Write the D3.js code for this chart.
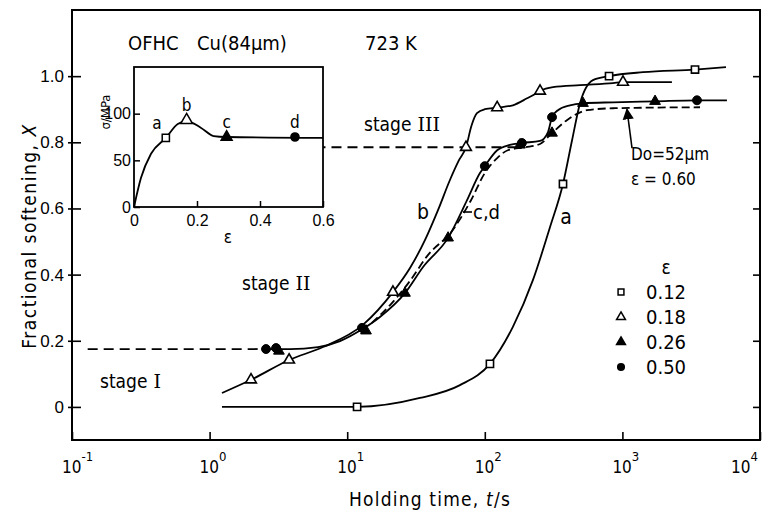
<!DOCTYPE html>
<html>
<head>
<meta charset="utf-8">
<script src="https://cdn.jsdelivr.net/npm/d3@7"></script>
<style>
body { margin: 0; background: #fff; }
svg { font-family: "DejaVu Sans Condensed", "DejaVu Sans", sans-serif; }
.ln { fill: none; stroke: #000; stroke-width: 1.8; }
</style>
</head>
<body>
<svg id="chart" width="762" height="514"></svg>
<script>
// holding time t (s), fractional softening X
var tickT = [0.1, 1, 10, 100, 1000, 10000];
var tickExp = ["-1", "0", "1", "2", "3", "4"];
var tickX = [0, 0.2, 0.4, 0.6, 0.8, 1.0];
var tickXLabels = ["0", "0.2", "0.4", "0.6", "0.8", "1.0"];

// a : eps = 0.12
var curveA = [[1.23, 0], [11.8, 0], [33.8, 0.027], [66, 0.066], [109, 0.13], [160, 0.242], [224, 0.384],
	[298, 0.544], [370, 0.674], [431, 0.807], [492, 0.918], [611, 0.988], [800, 1.0], [1413, 1.012],
	[3370, 1.02], [5660, 1.027]];
var marksA = [[11.8, 0], [109, 0.13], [370, 0.674], [800, 1.0], [3370, 1.02]];

// b : eps = 0.18
var curveB = [[1.23, 0.042], [2.0, 0.082], [3.78, 0.142], [6.67, 0.181], [13.0, 0.248], [21.5, 0.347],
	[28.6, 0.42], [36.8, 0.505], [45.7, 0.595], [55.8, 0.686], [64.9, 0.746], [73, 0.785], [80, 0.85],
	[87.7, 0.888], [100, 0.9], [123, 0.905], [160, 0.912], [203, 0.933], [239, 0.949], [252, 0.955],
	[313, 0.967], [492, 0.973], [855, 0.979], [1010, 0.982], [2290, 0.982]];
var marksB = [[2.0, 0.082], [3.78, 0.142], [21.5, 0.347], [73, 0.785], [123, 0.905], [252, 0.955], [1010, 0.982]];

// c,d : eps = 0.26 and 0.50 share one curve
var curveCD = [[2.40, 0.175], [3.84, 0.175], [6.14, 0.181], [8.87, 0.199], [13.0, 0.236], [17.3, 0.272],
	[26.3, 0.344], [35.6, 0.423], [54.1, 0.511], [74.3, 0.625], [92.2, 0.707], [100, 0.728], [123, 0.776],
	[152, 0.792], [186, 0.798], [252, 0.804], [288, 0.831], [308, 0.876], [340, 0.897], [416, 0.912],
	[517, 0.918], [855, 0.921], [1727, 0.924], [3484, 0.927], [5750, 0.927]];
var marksC = [[3.19, 0.169], [13.7, 0.23], [26.3, 0.344], [54.1, 0.511], [180, 0.792], [308, 0.828], [517, 0.918], [1727, 0.924]];
var marksD = [[2.57, 0.175], [3.04, 0.178], [12.8, 0.239], [100, 0.728], [186, 0.798], [308, 0.876], [3484, 0.927]];

// Do = 52um, eps = 0.60 (dashed, no markers)
var curveE = [[15.1, 0.254], [20.5, 0.308], [28.6, 0.381], [38.6, 0.459], [57.8, 0.532], [79.4, 0.625],
	[100, 0.707], [123, 0.752], [147, 0.776], [196, 0.785], [252, 0.795], [308, 0.828], [395, 0.867],
	[553, 0.897], [855, 0.903], [3665, 0.906]];

var stageI = [[0.13, 0.175], [2.32, 0.175]];
var stageIII = [[4.5, 0.785], [166, 0.785]];
var arrowE = [[1175, 0.782], [1079, 0.9]];

var legendLabels = ["0.12", "0.18", "0.26", "0.50"];

// inset: stress-strain curve
var insetTicksE = [0, 0.2, 0.4, 0.6];
var insetTicksS = [0, 50, 100];
var insetCurve = [[0, 0], [0.022, 31], [0.054, 57], [0.101, 74], [0.139, 89], [0.167, 92], [0.212, 85],
	[0.253, 76], [0.294, 75], [0.6, 74]];
var insetStrain = [0.101, 0.167, 0.294, 0.511];
var insetStress = [74, 93, 75, 75];
var insetLabels = ["a", "b", "c", "d"];

var svg = d3.select("#chart");

var x = d3.scaleLog().domain([0.1, 10000]).range([72, 760]);
var y = d3.scaleLinear().domain([-0.1, 1.2]).range([440, 10]);

var line = d3.line()
	.x(function(d) { return x(d[0]); })
	.y(function(d) { return y(d[1]); })
	.curve(d3.curveMonotoneX);

var sym = {
	square: d3.symbol().type(d3.symbolSquare).size(52),
	tri: d3.symbol().type(d3.symbolTriangle).size(50),
	circle: d3.symbol().type(d3.symbolCircle).size(62)
};

function marks(g, data, px, py, path, filled) {
	g.selectAll(null).data(data).enter().append("path")
		.attr("d", path)
		.attr("transform", function(d) { return "translate(" + px(d) + "," + py(d) + ")"; })
		.attr("fill", filled ? "#000" : "#fff")
		.attr("stroke", "#000")
		.attr("stroke-width", filled ? 1 : 1.6);
}

// frame
svg.append("rect").attr("x", 72).attr("y", 10).attr("width", 688).attr("height", 430)
	.attr("fill", "none").attr("stroke", "#000").attr("stroke-width", 2);

// bottom axis ticks (inward) + labels with exponents
var gx = svg.append("g").attr("transform", "translate(0,440)")
	.call(d3.axisBottom(x).tickValues(tickT).tickSize(-8).tickFormat(""));
gx.select(".domain").remove();
gx.selectAll(".tick line").attr("stroke-width", 1.6);

var xl = svg.append("g").attr("font-size", 17);
tickT.forEach(function(t, i) {
	// last label sits at the right edge; nudge it in so it is not clipped
	var lx = Math.min(x(t) - 10, 731);
	var tx = xl.append("text").attr("x", lx).attr("y", 473);
	tx.append("tspan").text("10");
	tx.append("tspan").attr("dy", -12).attr("font-size", 13).text(tickExp[i]);
});

// left axis
var gy = svg.append("g").attr("transform", "translate(72,0)")
	.call(d3.axisLeft(y).tickValues(tickX).tickSizeInner(-9).tickSizeOuter(0).tickPadding(8)
		.tickFormat(function(d, i) { return tickXLabels[i]; }));
gy.select(".domain").remove();
gy.selectAll(".tick line").attr("x1", -4).attr("stroke-width", 1.6);
gy.selectAll(".tick text").attr("font-size", 17).attr("font-family", null);

// right axis ticks
var gr = svg.append("g").attr("transform", "translate(760,0)")
	.call(d3.axisRight(y).tickValues(tickX).tickSize(-7).tickFormat(""));
gr.select(".domain").remove();
gr.selectAll(".tick line").attr("stroke-width", 1.6);

// axis titles
svg.append("text").attr("x", 430).attr("y", 506).attr("text-anchor", "middle")
	.attr("font-size", 19).attr("letter-spacing", 1.2)
	.html('Holding time, <tspan font-style="italic">t</tspan>/s');
svg.append("text").attr("transform", "translate(36,236) rotate(-90)").attr("text-anchor", "middle")
	.attr("font-size", 19).attr("letter-spacing", 1.5)
	.html('Fractional softening, <tspan font-style="italic">X</tspan>');

// dashed reference lines
svg.append("path").datum(stageI).attr("class", "ln").attr("d", line).attr("stroke-dasharray", "10,6");
svg.append("path").datum(stageIII).attr("class", "ln").attr("d", line).attr("stroke-dasharray", "10,6");
svg.append("path").datum(curveE).attr("class", "ln").attr("d", line).attr("stroke-dasharray", "8,4");

// curves
[curveA, curveB, curveCD].forEach(function(c) {
	svg.append("path").datum(c).attr("class", "ln").attr("d", line);
});

var px = function(d) { return x(d[0]); }, py = function(d) { return y(d[1]); };
var gm = svg.append("g");
marks(gm, marksA, px, py, sym.square, false);
marks(gm, marksB, px, py, sym.tri, false);
marks(gm, marksC, px, py, sym.tri, true);
marks(gm, marksD, px, py, sym.circle, true);

// arrow to dashed curve
svg.append("defs").append("marker").attr("id", "arr").attr("viewBox", "0 0 10 10")
	.attr("refX", 9).attr("refY", 5).attr("markerWidth", 7).attr("markerHeight", 9).attr("orient", "auto")
	.append("path").attr("d", "M0,0L10,5L0,10z").attr("fill", "#000");
svg.append("line").attr("x1", x(arrowE[0][0])).attr("y1", y(arrowE[0][1]))
	.attr("x2", x(arrowE[1][0])).attr("y2", y(arrowE[1][1]))
	.attr("stroke", "#000").attr("stroke-width", 1.6).attr("marker-end", "url(#arr)");

// annotations
var ann = svg.append("g").attr("font-size", 19);
ann.append("text").attr("x", 128).attr("y", 50).attr("font-size", 20).text("OFHC");
ann.append("text").attr("x", 197).attr("y", 50).attr("font-size", 20).text("Cu(84μm)");
ann.append("text").attr("x", 365).attr("y", 50).attr("font-size", 20).text("723 K");
ann.append("text").attr("x", 364).attr("y", 131).html('stage<tspan font-family="DejaVu Serif"> III</tspan>');
ann.append("text").attr("x", 242).attr("y", 290).html('stage<tspan font-family="DejaVu Serif"> II</tspan>');
ann.append("text").attr("x", 100).attr("y", 388).html('stage<tspan font-family="DejaVu Serif"> I</tspan>');
ann.append("text").attr("x", 423).attr("y", 219).attr("text-anchor", "middle").attr("font-size", 21).text("b");
ann.append("text").attr("x", 566).attr("y", 224).attr("text-anchor", "middle").attr("font-size", 21).text("a");
ann.append("text").attr("x", 473).attr("y", 219).attr("font-size", 20).text("c,d");
ann.append("line").attr("x1", 463).attr("x2", 472).attr("y1", 212).attr("y2", 212)
	.attr("stroke", "#000").attr("stroke-width", 1.6);
ann.append("text").attr("x", 631).attr("y", 160).attr("font-size", 17).text("Do=52μm");
ann.append("text").attr("x", 631).attr("y", 185).attr("font-size", 17).text("ε = 0.60");

// legend
var lg = svg.append("g");
lg.append("text").attr("x", 666).attr("y", 274).attr("text-anchor", "middle").attr("font-size", 19).text("ε");
var legendTypes = [d3.symbolSquare, d3.symbolTriangle, d3.symbolTriangle, d3.symbolCircle];
var legendFill = [false, false, true, true];
legendLabels.forEach(function(l, i) {
	var ly = 292 + i * 25;
	lg.append("path").attr("d", d3.symbol().type(legendTypes[i]).size(34))
		.attr("transform", "translate(621," + ly + ")")
		.attr("fill", legendFill[i] ? "#000" : "#fff").attr("stroke", "#000").attr("stroke-width", 1.5);
	lg.append("text").attr("x", 646).attr("y", ly + 7).attr("font-size", 20).text(l);
});

// inset
var ix = d3.scaleLinear().domain([0, 0.6]).range([134, 323]);
var iy = d3.scaleLinear().domain([0, 150]).range([207, 67]);
var ins = svg.append("g");
ins.append("rect").attr("x", 134).attr("y", 67).attr("width", 189).attr("height", 140)
	.attr("fill", "#fff").attr("stroke", "#000").attr("stroke-width", 1.8);
var ixa = ins.append("g").attr("transform", "translate(0,207)")
	.call(d3.axisBottom(ix).tickValues(insetTicksE).tickSize(-6).tickPadding(8).tickFormat(d3.format("")));
ixa.select(".domain").remove();
ixa.selectAll(".tick text").attr("font-size", 16).attr("font-family", null);
ixa.selectAll(".tick line").attr("stroke-width", 1.5);
var iya = ins.append("g").attr("transform", "translate(134,0)")
	.call(d3.axisLeft(iy).tickValues(insetTicksS).tickSize(-6).tickPadding(3).tickFormat(d3.format("")));
iya.select(".domain").remove();
iya.selectAll(".tick text").attr("font-size", 16).attr("font-family", null);
iya.selectAll(".tick line").attr("stroke-width", 1.5);
ins.append("text").attr("transform", "translate(110,112) rotate(-90)").attr("text-anchor", "middle")
	.attr("font-size", 13).text("σ/MPa");
ins.append("text").attr("x", 228).attr("y", 243).attr("text-anchor", "middle").attr("font-size", 17).text("ε");

var iline = d3.line()
	.x(function(d) { return ix(d[0]); })
	.y(function(d) { return iy(d[1]); })
	.curve(d3.curveMonotoneX);
ins.append("path").datum(insetCurve).attr("class", "ln").attr("d", iline);
var insetTypes = [d3.symbolSquare, d3.symbolTriangle, d3.symbolTriangle, d3.symbolCircle];
var insetFill = [false, false, true, true];
insetStrain.forEach(function(e, i) {
	ins.append("path").attr("d", d3.symbol().type(insetTypes[i]).size(i === 1 ? 60 : 52))
		.attr("transform", "translate(" + ix(e) + "," + iy(insetStress[i]) + ")")
		.attr("fill", insetFill[i] ? "#000" : "#fff").attr("stroke", "#000").attr("stroke-width", 1.5);
	ins.append("text").attr("x", ix(e) + (i === 0 ? -9 : 0)).attr("y", iy(insetStress[i]) - 9)
		.attr("text-anchor", "middle").attr("font-size", 17).text(insetLabels[i]);
});
</script>
</body>
</html>
